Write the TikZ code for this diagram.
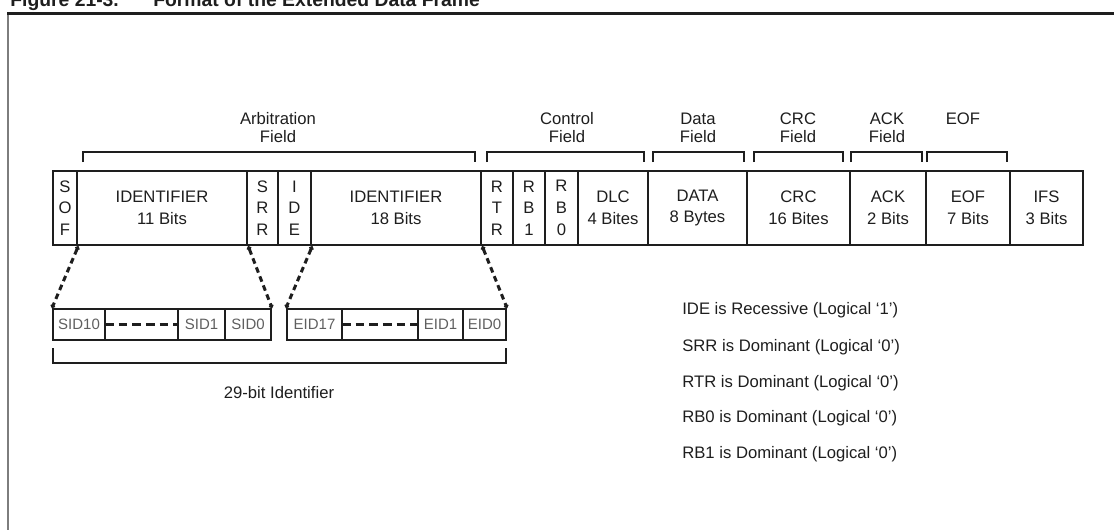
\documentclass[tikz,border=0pt]{standalone}
\usepackage{fontspec}
\setmainfont{Liberation Sans}
\usetikzlibrary{arrows.meta}
\definecolor{inkdark}{RGB}{30,30,30}
\definecolor{inkgray}{RGB}{95,95,95}
\definecolor{framegray}{RGB}{125,125,125}
\tikzset{
  field/.style={draw=inkdark,line width=1.5pt,minimum height=44.4pt,inner sep=0pt,
    align=center,text=inkdark,font=\fontsize{10}{13}\selectfont},
  idbit/.style={draw=inkdark,line width=1.2pt,minimum height=18.6pt,inner sep=0pt,
    text=inkgray,font=\fontsize{9}{11}\selectfont},
  wd/.style={minimum width=#1*0.6pt},
  bracket/.style={line width=1.5pt,inkdark},
  fieldname/.style={font=\fontsize{10}{10.8}\selectfont,align=center,text=inkdark,inner sep=0pt},
  mapline/.style={{Circle[length=2.6pt]}-{Circle[length=2.6pt]},dash pattern=on 3.4pt off 2.4pt,
    line width=1.8pt,inkdark},
  gapline/.style={dash pattern=on 5.2pt off 3pt,dash phase=-0.5pt,line width=1.4pt,inkdark},
  note/.style={anchor=west,font=\fontsize{10}{12}\selectfont,text=inkdark,inner sep=0pt}
}

\begin{document}
\begin{tikzpicture}[x=0.6pt,y=-0.6pt]
  \useasboundingbox (0,0) rectangle (1114,530);
  \clip (0,0) rectangle (1114,530);

  % title and frame
  \node[anchor=base west,inner sep=0pt,font=\fontsize{11.6}{13}\selectfont\bfseries,text=inkdark] (fignum) at (10,6) {Figure 21-3.};
  \node[anchor=base west,inner sep=0pt,font=\fontsize{11.6}{13}\selectfont\bfseries,text=inkdark] (figname) at (153,6) {Format of the Extended Data Frame};
  \draw[line width=1.3pt,framegray] (8,13.5) -- (8,530);
  \draw[line width=1.8pt,inkdark] (7,13.5) -- (1114,13.5);

  % frame fields
  \node[field,wd=24]  (sof)  at (65,208)     {S\\O\\F};
  \node[field,wd=170] (id11) at (162,208)    {IDENTIFIER\\11 Bits};
  \node[field,wd=31]  (srr)  at (262.5,208)  {S\\R\\R};
  \node[field,wd=33]  (ide)  at (294.5,208)  {I\\D\\E};
  \node[field,wd=170] (id18) at (396,208)    {IDENTIFIER\\18 Bits};
  \node[field,wd=32]  (rtr)  at (497,208)    {R\\T\\R};
  \node[field,wd=32]  (rb1)  at (529,208)    {R\\B\\1};
  \node[field,wd=33]  (rb0)  at (561.5,208)  {R\\B\\0};
  \node[field,wd=70]  (dlc)  at (613,208)    {DLC\\4 Bites};
  \node[field,wd=99]  (data) at (697.5,208)  {DATA\\8 Bytes};
  \node[field,wd=103] (crc)  at (798.5,208)  {CRC\\16 Bites};
  \node[field,wd=76]  (ack)  at (888,208)    {ACK\\2 Bits};
  \node[field,wd=84]  (eof)  at (968,208)    {EOF\\7 Bits};
  \node[field,wd=73]  (ifs)  at (1046.5,208) {IFS\\3 Bits};

  % field brackets
  \draw[bracket] (83,162) |- (475,152) -- (475,162);
  \draw[bracket] (487,162) |- (644,152) -- (644,162);
  \draw[bracket] (653,162) |- (744,152) -- (744,162);
  \draw[bracket] (754,162) |- (843,152) -- (843,162);
  \draw[bracket] (851,162) |- (922,152) -- (922,162);
  \draw[bracket] (927,162) |- (1007,152) -- (1007,162);
  \node[fieldname] (arbname)  at (278,128) {Arbitration\\Field};
  \node[fieldname] (ctrlname) at (567,128) {Control\\Field};
  \node[fieldname] (dataname) at (698,128) {Data\\Field};
  \node[fieldname] (crcname)  at (798,128) {CRC\\Field};
  \node[fieldname] (ackname)  at (887,128) {ACK\\Field};
  \node[fieldname] (eofname)  at (963,119) {EOF};

  % identifier bits
  \node[idbit,wd=52] (sid10)   at (79,324.5)    {SID10};
  \node[idbit,wd=73] (siddots) at (141.5,324.5) {};
  \node[idbit,wd=47] (sid1)    at (201.5,324.5) {SID1};
  \node[idbit,wd=46] (sid0)    at (248,324.5)   {SID0};
  \node[idbit,wd=55] (eid17)   at (314.5,324.5) {EID17};
  \node[idbit,wd=76] (eiddots) at (380,324.5)   {};
  \node[idbit,wd=45] (eid1)    at (440.5,324.5) {EID1};
  \node[idbit,wd=43] (eid0)    at (484.5,324.5) {EID0};
  \draw[gapline] (siddots.west) -- (siddots.east);
  \draw[gapline] (eiddots.west) -- (eiddots.east);

  \draw[mapline] (sof.south east) -- (sid10.north west);
  \draw[mapline] (id11.south east) -- (sid0.north east);
  \draw[mapline] (ide.south east) -- (eid17.north west);
  \draw[mapline] (id18.south east) -- (eid0.north east);

  \draw[bracket] (53,348) |- (506,363) -- (506,348);
  \node[fieldname] (idname) at (279,393) {29-bit Identifier};

  % bit notes
  \node[note] (idenote) at (682,310) {IDE is Recessive (Logical `1')};
  \node[note] (srrnote) at (682,347) {SRR is Dominant (Logical `0')};
  \node[note] (rtrnote) at (682,383) {RTR is Dominant (Logical `0')};
  \node[note] (rb0note) at (682,418) {RB0 is Dominant (Logical `0')};
  \node[note] (rb1note) at (682,454) {RB1 is Dominant (Logical `0')};
\end{tikzpicture}
\end{document}
